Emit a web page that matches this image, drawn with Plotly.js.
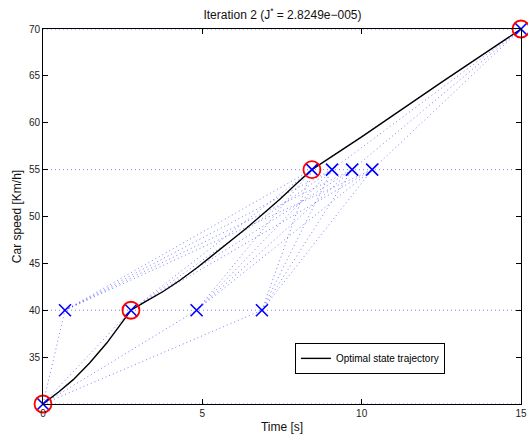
<!DOCTYPE html>
<html>
<head>
<meta charset="utf-8">
<script src="https://cdn.plot.ly/plotly-3.0.1.min.js"></script>
<style>html,body{margin:0;padding:0;background:#fff;}#chart{width:528px;height:443px;}</style>
</head>
<body>
<div id="chart"></div>
<script>
// Grid levels (speed) and candidate time nodes at each level
const levelSpeeds = [30, 40, 55, 70];
const level0Times = [0];
const level1Times = [0.69, 2.76, 4.82, 6.87];
const level2Times = [8.44, 9.07, 9.70, 10.33];
const level3Times = [15];

// Optimal nodes chosen
const optTimes = [0, 2.76, 8.44, 15];
const optSpeeds = [30, 40, 55, 70];

// Optimal state trajectory
const trajTime = [0, 0.5, 0.95, 1.47, 2.0, 2.4, 2.76, 3.2, 3.77, 4.3, 4.82, 5.3, 5.86, 6.4, 6.91, 7.45, 7.95, 8.44, 10, 12.5, 15];
const trajSpeed = [30, 31.3, 32.6, 34.4, 36.5, 38.4, 40, 40.9, 42.0, 43.2, 44.5, 45.8, 47.3, 48.8, 50.3, 51.9, 53.5, 55, 58.5, 64.3, 70];

const xTickVals = [0, 5, 10, 15];
const yTickVals = [35, 40, 45, 50, 55, 60, 65, 70];

const levels = [level0Times, level1Times, level2Times, level3Times];

// dotted connections between consecutive levels + horizontal level lines
const dx = [], dy = [];
levelSpeeds.forEach(s => { dx.push(0, 15, null); dy.push(s, s, null); });
for (let i = 0; i < levels.length - 1; i++) {
  levels[i].forEach(a => {
    levels[i + 1].forEach(b => {
      dx.push(a, b, null); dy.push(levelSpeeds[i], levelSpeeds[i + 1], null);
    });
  });
}
const nx = [], ny = [];
levels.forEach((lv, i) => lv.forEach(t => { nx.push(t); ny.push(levelSpeeds[i]); }));

const traces = [
  {x: dx, y: dy, mode: 'lines', line: {color: 'rgba(40,40,255,0.6)', width: 1, dash: '1px,3px'}, showlegend: false, hoverinfo: 'skip', cliponaxis: false},
  {x: trajTime, y: trajSpeed, mode: 'lines', line: {color: '#000', width: 1.4}, name: 'Optimal state trajectory', showlegend: true},
  {x: nx, y: ny, mode: 'markers', marker: {symbol: 'x-thin-open', size: 12, line: {color: '#0000ff', width: 1.6}, color: '#0000ff'}, showlegend: false, cliponaxis: false},
  {x: optTimes, y: optSpeeds, mode: 'markers', marker: {symbol: 'circle-open', size: 17, color: '#ff0000', line: {color: '#ff0000', width: 1.8}}, showlegend: false, cliponaxis: false}
];

const axCommon = {
  showgrid: false, zeroline: false, showline: true, linecolor: '#000', linewidth: 1,
  mirror: 'ticks', ticks: 'inside', ticklen: 5, tickcolor: '#000', tickwidth: 1,
  tickfont: {family: 'Liberation Sans, Arial, sans-serif', size: 10, color: '#222'}
};

const layout = {
  width: 528, height: 443,
  margin: {l: 43, r: 7, t: 29, b: 39},
  paper_bgcolor: '#fff', plot_bgcolor: '#fff',
  title: {text: 'Iteration 2 (J<sup>*</sup> = 2.8249e\u2212005)', x: 0.535, xanchor: 'center', y: 0.975, yanchor: 'top',
          font: {family: 'Liberation Sans, Arial, sans-serif', size: 12, color: '#111'}},
  xaxis: Object.assign({}, axCommon, {range: [0, 15], tickvals: xTickVals, ticktext: xTickVals.map(String),
          title: {text: 'Time [s]', standoff: 4, font: {family: 'Liberation Sans, Arial, sans-serif', size: 12, color: '#111'}}}),
  yaxis: Object.assign({}, axCommon, {range: [30, 70], tickvals: yTickVals, ticktext: yTickVals.map(String),
          title: {text: 'Car speed [Km/h]', standoff: 4, font: {family: 'Liberation Sans, Arial, sans-serif', size: 12, color: '#111'}}}),
  legend: {x: 0.527, y: 0.163, xanchor: 'left', yanchor: 'top', bgcolor: '#fff', bordercolor: '#000', borderwidth: 1,
           font: {family: 'Liberation Sans, Arial, sans-serif', size: 10, color: '#000'}, itemwidth: 30, tracegroupgap: 0},
  showlegend: true
};

Plotly.newPlot('chart', traces, layout, {staticPlot: true, displayModeBar: false});
</script>
</body>
</html>
